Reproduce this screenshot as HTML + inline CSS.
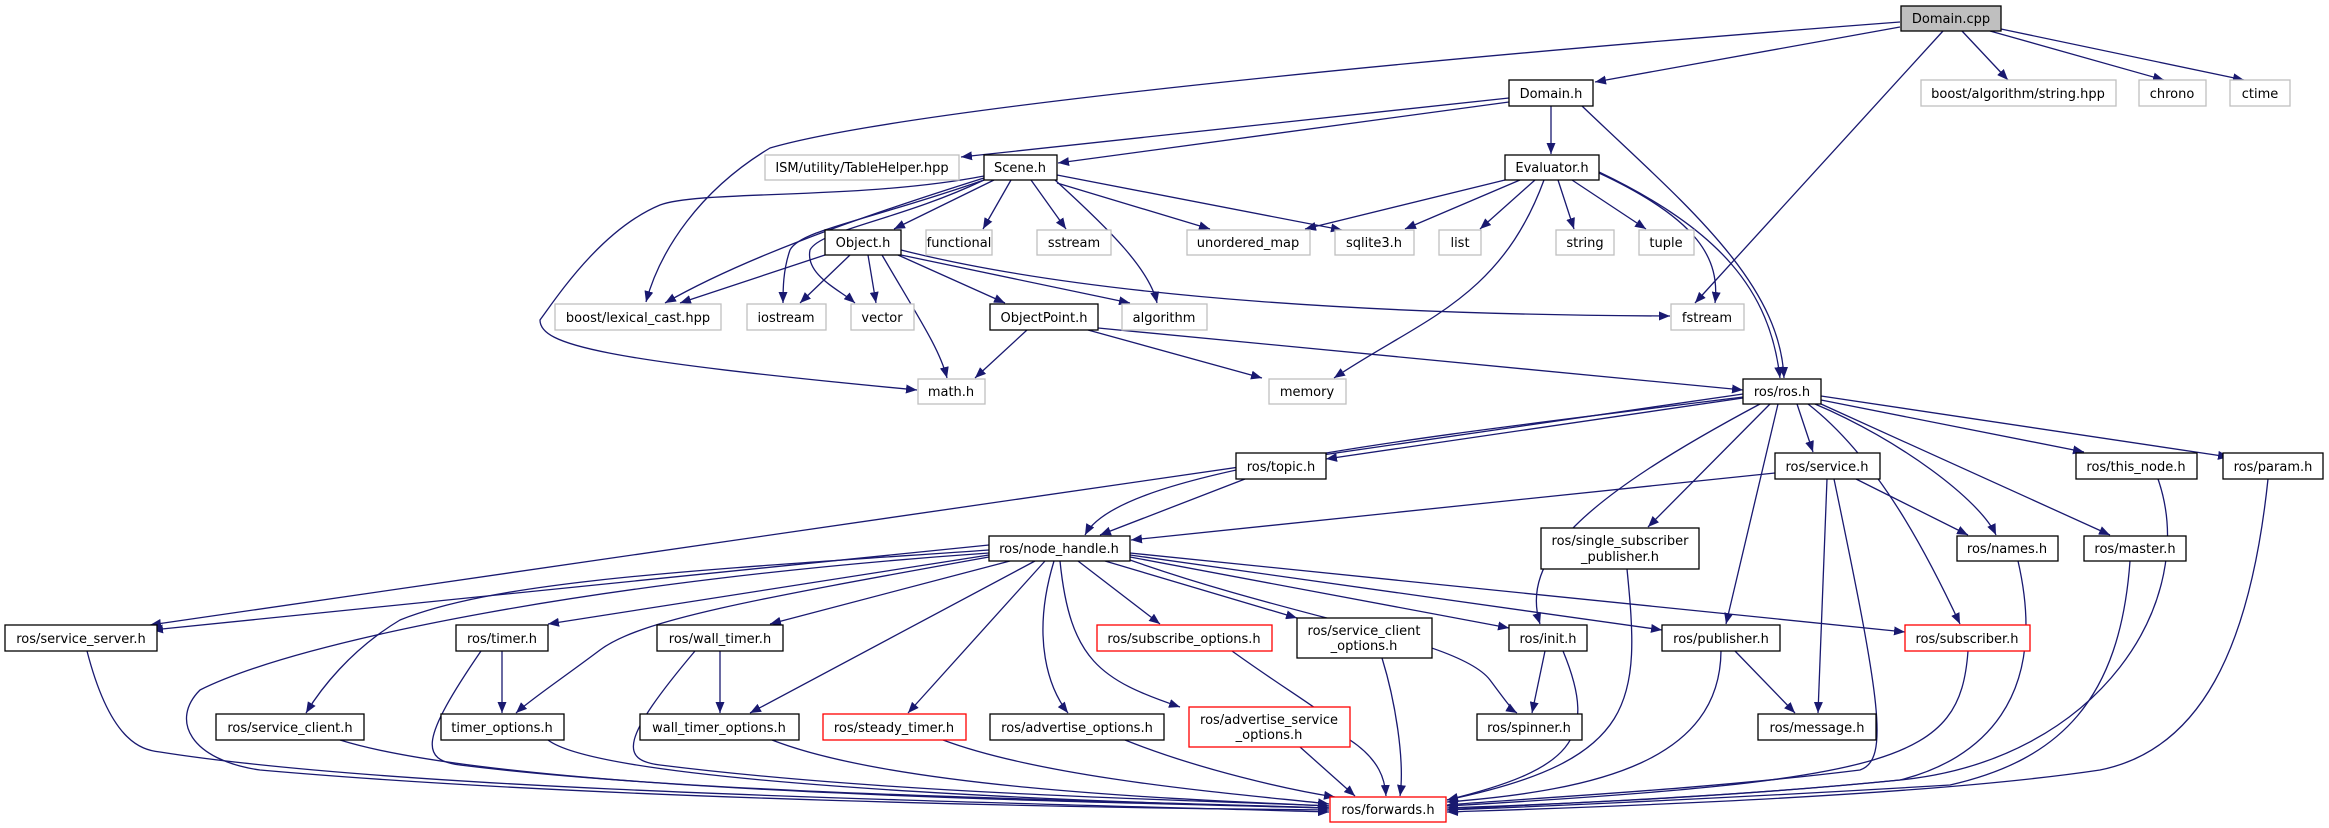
<!DOCTYPE html>
<html><head><meta charset="utf-8"><style>
html,body{margin:0;padding:0;background:#fff;}
svg{display:block;}
text{font-family:"DejaVu Sans","Liberation Sans",sans-serif;font-size:13px;fill:#000;text-anchor:middle;}
.e{fill:none;stroke:#191970;stroke-width:1.3;marker-end:url(#a);}
.n{fill:#fff;stroke:#000;stroke-width:1.3;}
.g{fill:#fff;stroke:#bfbfbf;stroke-width:1.3;}
.r{fill:#fff;stroke:#ff0000;stroke-width:1.3;}
</style></head><body>
<svg width="2329" height="828" viewBox="0 0 2329 828" xmlns="http://www.w3.org/2000/svg">
<defs><marker id="a" markerUnits="userSpaceOnUse" markerWidth="12" markerHeight="9" refX="11" refY="4.5" orient="auto"><path d="M0,0 L11,4.5 L0,9 z" fill="#191970"/></marker></defs>
<g>
<!-- Domain.cpp -->
<path class="e" d="M1900,27 L1595,82"/>
<path class="e" d="M1900,22 C1400,60 900,110 770,148 C700,190 660,250 646,302"/>
<path class="e" d="M1962,31 L2008,80"/>
<path class="e" d="M1990,31 L2164,80"/>
<path class="e" d="M2001,29 L2244,80"/>
<path class="e" d="M1943,31 L1695,303"/>
<!-- Domain.h -->
<path class="e" d="M1509,98 L961,157"/>
<path class="e" d="M1509,102 L1058,163"/>
<path class="e" d="M1551,106 L1551,154"/>
<path class="e" d="M1582,106 C1680,200 1780,280 1784,378"/>
<!-- Scene.h -->
<path class="e" d="M994,180 L894,229"/>
<path class="e" d="M1011,180 L983,229"/>
<path class="e" d="M1031,180 L1066,229"/>
<path class="e" d="M1055,180 C1110,230 1150,270 1157,303"/>
<path class="e" d="M1057,183 L1210,229"/>
<path class="e" d="M1057,175 L1342,230"/>
<path class="e" d="M984,178 C850,220 740,260 665,303"/>
<path class="e" d="M984,180 C870,220 800,230 790,250 C783,270 783,290 783,303"/>
<path class="e" d="M984,180 C900,220 820,230 810,250 C805,275 840,290 855,303"/>
<path class="e" d="M984,176 C860,200 700,190 660,205 C600,230 555,300 540,320 C540,345 600,360 917,390"/>
<!-- Object.h -->
<path class="e" d="M825,255 L680,303"/>
<path class="e" d="M850,255 L800,303"/>
<path class="e" d="M868,255 L876,303"/>
<path class="e" d="M882,255 C920,320 940,350 947,378"/>
<path class="e" d="M898,255 L1005,303"/>
<path class="e" d="M901,255 L1130,303"/>
<path class="e" d="M901,250 C1100,300 1400,315 1670,316"/>
<!-- Evaluator.h -->
<path class="e" d="M1505,180 L1305,229"/>
<path class="e" d="M1520,180 L1405,229"/>
<path class="e" d="M1535,180 L1480,229"/>
<path class="e" d="M1558,180 L1574,229"/>
<path class="e" d="M1572,180 L1646,229"/>
<path class="e" d="M1544,180 C1500,300 1420,320 1334,378"/>
<path class="e" d="M1599,173 C1700,220 1720,260 1715,303"/>
<path class="e" d="M1599,172 C1720,230 1770,290 1780,378"/>
<!-- ObjectPoint.h -->
<path class="e" d="M1027,330 L975,378"/>
<path class="e" d="M1088,330 L1262,378"/>
<path class="e" d="M1098,328 L1743,390"/>
<!-- ros/ros.h -->
<path class="e" d="M1743,397 C1400,440 1120,470 1085,535"/>
<path class="e" d="M1743,398 L1326,459"/>
<path class="e" d="M1743,394 L150,625"/>
<path class="e" d="M1797,404 L1813,452"/>
<path class="e" d="M1821,400 L2084,452"/>
<path class="e" d="M1821,396 L2229,457"/>
<path class="e" d="M1770,404 L1648,527"/>
<path class="e" d="M1760,404 C1580,500 1520,560 1540,624"/>
<path class="e" d="M1778,404 L1726,624"/>
<path class="e" d="M1815,404 C1900,440 1980,500 1996,535"/>
<path class="e" d="M1821,404 L2110,535"/>
<path class="e" d="M1808,404 C1880,460 1930,560 1960,624"/>
<!-- topic/service -->
<path class="e" d="M1245,479 L1100,535"/>
<path class="e" d="M1775,473 L1131,540"/>
<path class="e" d="M1856,479 L1968,535"/>
<path class="e" d="M1827,479 L1818,713"/>
<path class="e" d="M1834,479 C1880,700 1890,760 1860,770 C1700,790 1500,800 1447,805"/>
<!-- to forwards -->
<path class="e" d="M2158,479 C2200,600 2100,760 1900,780 C1700,800 1500,805 1447,810"/>
<path class="e" d="M2268,479 C2250,650 2200,750 2100,770 C1900,800 1500,810 1447,812"/>
<path class="e" d="M1627,569 C1640,700 1640,760 1447,800"/>
<path class="e" d="M2018,561 C2050,700 1980,760 1900,780 C1700,800 1500,806 1447,808"/>
<path class="e" d="M2130,561 C2120,700 2060,760 1950,785 C1700,800 1500,808 1447,810"/>
<path class="e" d="M1545,651 L1532,713"/>
<path class="e" d="M1563,651 C1600,740 1570,770 1447,800"/>
<path class="e" d="M1735,651 L1795,713"/>
<path class="e" d="M1721,651 C1720,760 1600,790 1447,802"/>
<path class="e" d="M1968,651 C1960,760 1900,780 1447,806"/>
<path class="e" d="M87,651 C110,740 140,750 160,752 C400,790 900,800 1329,812"/>
<path class="e" d="M340,740 C500,790 1000,800 1329,808"/>
<path class="e" d="M481,651 C420,740 420,760 460,765 C700,795 1100,800 1329,808"/>
<path class="e" d="M548,740 C600,780 1000,800 1329,808"/>
<path class="e" d="M695,651 C620,740 620,760 660,765 C900,795 1200,800 1329,806"/>
<path class="e" d="M772,740 C900,790 1200,800 1329,806"/>
<path class="e" d="M943,740 C1050,780 1250,795 1329,804"/>
<path class="e" d="M1125,740 C1200,770 1290,790 1335,797"/>
<path class="e" d="M1300,747 L1355,796"/>
<path class="e" d="M1232,651 C1300,700 1340,720 1350,740 C1380,760 1385,780 1386,796"/>
<path class="e" d="M1382,658 C1395,700 1405,760 1400,796"/>
<!-- node_handle.h -->
<path class="e" d="M989,545 L152,630"/>
<path class="e" d="M989,550 C700,570 500,580 400,620 C350,650 320,690 306,713"/>
<path class="e" d="M989,555 L548,624"/>
<path class="e" d="M989,557 C750,600 640,620 600,650 C560,680 530,700 516,713"/>
<path class="e" d="M1010,561 L770,624"/>
<path class="e" d="M1035,561 L750,713"/>
<path class="e" d="M1045,561 L908,713"/>
<path class="e" d="M1054,561 C1030,640 1050,690 1068,713"/>
<path class="e" d="M1060,561 C1070,660 1100,680 1180,707"/>
<path class="e" d="M1078,561 L1160,624"/>
<path class="e" d="M1105,561 L1297,618"/>
<path class="e" d="M1130,557 L1509,628"/>
<path class="e" d="M1130,560 C1300,620 1460,640 1490,680 C1505,700 1512,710 1517,713"/>
<path class="e" d="M1130,555 L1662,630"/>
<path class="e" d="M1130,553 L1905,632"/>
<path class="e" d="M989,553 C600,580 300,640 200,690 C170,720 190,760 260,770 C600,800 1100,808 1329,810"/>
<path class="e" d="M502,651 L502,713"/>
<path class="e" d="M720,651 L720,713"/>
</g>
<g>
<rect x="1901" y="6" width="100" height="25" fill="#bfbfbf" stroke="#000" stroke-width="1.3"/><text x="1951" y="23">Domain.cpp</text>
<rect class="n" x="1509" y="80" width="84" height="26"/><text x="1551" y="98">Domain.h</text>
<rect class="g" x="1921" y="80" width="195" height="26"/><text x="2018" y="98">boost/algorithm/string.hpp</text>
<rect class="g" x="2139" y="80" width="67" height="26"/><text x="2172" y="98">chrono</text>
<rect class="g" x="2230" y="80" width="60" height="26"/><text x="2260" y="98">ctime</text>
<rect class="g" x="765" y="155" width="194" height="25"/><text x="862" y="172">ISM/utility/TableHelper.hpp</text>
<rect class="n" x="984" y="155" width="73" height="25"/><text x="1020" y="172">Scene.h</text>
<rect class="n" x="1505" y="155" width="94" height="25"/><text x="1552" y="172">Evaluator.h</text>
<rect class="n" x="825" y="230" width="76" height="25"/><text x="863" y="247">Object.h</text>
<rect class="g" x="926" y="230" width="66" height="25"/><text x="959" y="247">functional</text>
<rect class="g" x="1037" y="230" width="74" height="25"/><text x="1074" y="247">sstream</text>
<rect class="g" x="1187" y="230" width="123" height="25"/><text x="1248" y="247">unordered_map</text>
<rect class="g" x="1335" y="230" width="79" height="25"/><text x="1374" y="247">sqlite3.h</text>
<rect class="g" x="1439" y="230" width="42" height="25"/><text x="1460" y="247">list</text>
<rect class="g" x="1556" y="230" width="58" height="25"/><text x="1585" y="247">string</text>
<rect class="g" x="1639" y="230" width="55" height="25"/><text x="1666" y="247">tuple</text>
<rect class="g" x="555" y="304" width="166" height="26"/><text x="638" y="322">boost/lexical_cast.hpp</text>
<rect class="g" x="747" y="304" width="79" height="26"/><text x="786" y="322">iostream</text>
<rect class="g" x="851" y="304" width="63" height="26"/><text x="882" y="322">vector</text>
<rect class="n" x="990" y="304" width="108" height="26"/><text x="1044" y="322">ObjectPoint.h</text>
<rect class="g" x="1122" y="304" width="85" height="26"/><text x="1164" y="322">algorithm</text>
<rect class="g" x="1671" y="304" width="73" height="26"/><text x="1707" y="322">fstream</text>
<rect class="g" x="918" y="379" width="67" height="25"/><text x="951" y="396">math.h</text>
<rect class="g" x="1269" y="379" width="77" height="25"/><text x="1307" y="396">memory</text>
<rect class="n" x="1743" y="379" width="78" height="25"/><text x="1782" y="396">ros/ros.h</text>
<rect class="n" x="1236" y="453" width="90" height="26"/><text x="1281" y="471">ros/topic.h</text>
<rect class="n" x="1775" y="453" width="105" height="26"/><text x="1827" y="471">ros/service.h</text>
<rect class="n" x="2076" y="453" width="121" height="26"/><text x="2136" y="471">ros/this_node.h</text>
<rect class="n" x="2223" y="453" width="100" height="26"/><text x="2273" y="471">ros/param.h</text>
<rect class="n" x="1541" y="528" width="158" height="41"/><text x="1620" y="545">ros/single_subscriber</text><text x="1620" y="561">_publisher.h</text>
<rect class="n" x="989" y="536" width="141" height="25"/><text x="1059" y="553">ros/node_handle.h</text>
<rect class="n" x="1957" y="536" width="101" height="25"/><text x="2007" y="553">ros/names.h</text>
<rect class="n" x="2084" y="536" width="102" height="25"/><text x="2135" y="553">ros/master.h</text>
<rect class="n" x="5" y="625" width="152" height="26"/><text x="81" y="643">ros/service_server.h</text>
<rect class="n" x="456" y="625" width="92" height="26"/><text x="502" y="643">ros/timer.h</text>
<rect class="n" x="657" y="625" width="126" height="26"/><text x="720" y="643">ros/wall_timer.h</text>
<rect class="r" x="1097" y="625" width="175" height="26"/><text x="1184" y="643">ros/subscribe_options.h</text>
<rect class="n" x="1297" y="618" width="135" height="40"/><text x="1364" y="635">ros/service_client</text><text x="1364" y="650">_options.h</text>
<rect class="n" x="1509" y="625" width="78" height="26"/><text x="1548" y="643">ros/init.h</text>
<rect class="n" x="1662" y="625" width="118" height="26"/><text x="1721" y="643">ros/publisher.h</text>
<rect class="r" x="1905" y="625" width="125" height="26"/><text x="1967" y="643">ros/subscriber.h</text>
<rect class="n" x="216" y="714" width="148" height="26"/><text x="290" y="732">ros/service_client.h</text>
<rect class="n" x="441" y="714" width="123" height="26"/><text x="502" y="732">timer_options.h</text>
<rect class="n" x="640" y="714" width="159" height="26"/><text x="719" y="732">wall_timer_options.h</text>
<rect class="r" x="823" y="714" width="143" height="26"/><text x="894" y="732">ros/steady_timer.h</text>
<rect class="n" x="990" y="714" width="174" height="26"/><text x="1077" y="732">ros/advertise_options.h</text>
<rect class="r" x="1189" y="707" width="161" height="40"/><text x="1269" y="724">ros/advertise_service</text><text x="1269" y="739">_options.h</text>
<rect class="n" x="1477" y="714" width="105" height="26"/><text x="1529" y="732">ros/spinner.h</text>
<rect class="n" x="1758" y="714" width="118" height="26"/><text x="1817" y="732">ros/message.h</text>
<rect class="r" x="1330" y="797" width="116" height="25"/><text x="1388" y="814">ros/forwards.h</text>
</g>
</svg>
</body></html>
